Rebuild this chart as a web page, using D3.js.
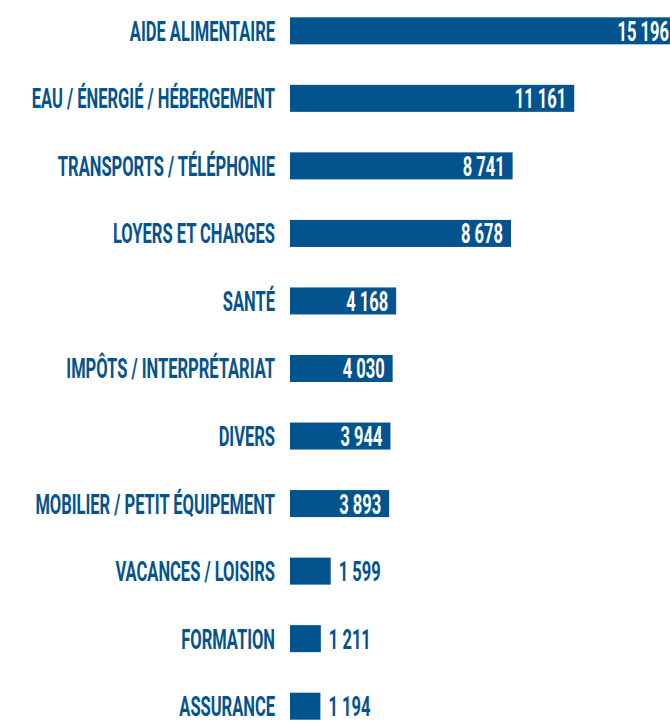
<!DOCTYPE html>
<html>
<head>
<meta charset="utf-8">
<script src="https://cdn.jsdelivr.net/npm/d3@7"></script>
<style>
  html, body { margin: 0; padding: 0; background: #fff; }
  svg { display: block; }
</style>
</head>
<body>
<svg id="chart" width="670" height="723"></svg>
<script>
// Data
const categories = [
    'AIDE ALIMENTAIRE',
    'EAU / ÉNERGIÉ / HÉBERGEMENT',
    'TRANSPORTS / TÉLÉPHONIE',
    'LOYERS ET CHARGES',
    'SANTÉ',
    'IMPÔTS / INTERPRÉTARIAT',
    'DIVERS',
    'MOBILIER / PETIT ÉQUIPEMENT',
    'VACANCES / LOISIRS',
    'FORMATION',
    'ASSURANCE'
];
const values = [15196, 11161, 8741, 8678, 4168, 4030, 3944, 3893, 1599, 1211, 1194];

const blue = '#03538f';
const fontSize = 28;
const squeeze = 0.59; // condensed look

const svg = d3.select('#chart');

const x = d3.scaleLinear()
    .domain([0, d3.max(values)])
    .range([290, 677]);

const y = d3.scaleBand()
    .domain(categories)
    .range([17.3, 719.7])
    .paddingInner(0.6)
    .paddingOuter(0);

const fmt = d3.formatLocale({ decimal: ',', thousands: ' ', grouping: [3], currency: ['', ''] }).format(',d');

const rows = categories.map((c, i) => ({ cat: c, val: values[i] }));

// Bars
svg.selectAll('.bar')
    .data(rows)
    .enter()
    .append('rect')
    .attr('class', 'bar')
    .attr('x', x(0))
    .attr('y', d => y(d.cat))
    .attr('width', d => x(d.val) - x(0))
    .attr('height', y.bandwidth())
    .attr('fill', blue);

// Category labels
svg.selectAll('.cat')
    .data(rows)
    .enter()
    .append('text')
    .attr('class', 'cat')
    .attr('transform', d => `translate(275,${y(d.cat) + y.bandwidth() / 2}) scale(${squeeze},1)`)
    .attr('dy', '0.355em')
    .attr('text-anchor', 'end')
    .style('font-family', 'Roboto, sans-serif')
    .style('font-weight', 700)
    .style('font-size', fontSize + 'px')
    .attr('fill', blue)
    .text(d => d.cat);

// Value labels: inside when the bar is long enough, otherwise after it
const inside = d => x(d.val) - x(0) > 60;
svg.selectAll('.val')
    .data(rows)
    .enter()
    .append('text')
    .attr('class', 'val')
    .attr('transform', d => {
        const tx = inside(d) ? x(d.val) - 8 : x(d.val) + 8;
        return `translate(${tx},${y(d.cat) + y.bandwidth() / 2}) scale(${squeeze},1)`;
    })
    .attr('dy', '0.355em')
    .attr('text-anchor', d => inside(d) ? 'end' : 'start')
    .style('font-family', 'Roboto, sans-serif')
    .style('font-weight', 700)
    .style('font-size', fontSize + 'px')
    .attr('fill', d => inside(d) ? '#fff' : blue)
    .text(d => fmt(d.val));
</script>
</body>
</html>
